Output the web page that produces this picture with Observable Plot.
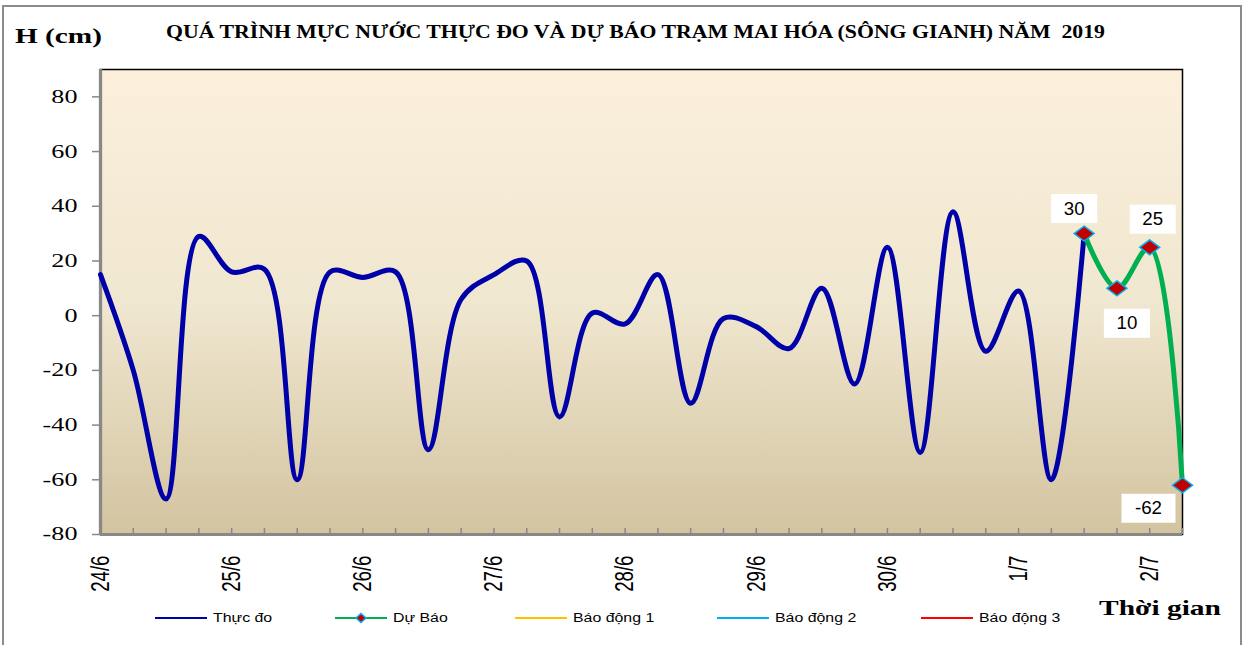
<!DOCTYPE html>
<html><head><meta charset="utf-8">
<script src="https://cdn.jsdelivr.net/npm/d3@7"></script>
<script src="https://cdn.jsdelivr.net/npm/@observablehq/plot@0.6"></script>
<style>
body{margin:0;background:#fff;}
#wrap{position:relative;width:1248px;height:645px;overflow:hidden;background:#fff;}
.stretch{position:absolute;white-space:pre;line-height:1;transform-origin:0 50%;color:#000;}
#border{position:absolute;left:2px;top:5px;width:1240px;height:660px;border:2px solid #8c8c8c;box-sizing:border-box;}
</style></head><body>
<svg width="0" height="0" style="position:absolute">
  <defs>
    <linearGradient id="bgGrad" x1="0" y1="0" x2="0" y2="1">
      <stop offset="0" stop-color="#FCF0DC"/>
      <stop offset="0.5" stop-color="#F0E7D0"/>
      <stop offset="1" stop-color="#D3C4A0"/>
    </linearGradient>
  </defs>
</svg>
<div id="wrap"><div id="border"></div></div>
<script>
// ---- data ----
const dayLabels = ["24/6","25/6","26/6","27/6","28/6","29/6","30/6","1/7","2/7"];
const yTicks = [-80,-60,-40,-20,0,20,40,60,80];
const observed = [15,-20,-67,29,16,17,-60,16,14,16,-49,6,15,20,-37,1,-3,15,-32,-1,-4,-12,10,-25,25,-50,38,-13,9,-60,30];
const forecast = [30,10,25,-62];
const forecastStart = 30;          // forecast begins at the last observed step
const stepsPerDay = 4;             // 6-hourly readings
const legendNames = ["Thực đo","Dự Báo","Báo động 1","Báo động 2","Báo động 3"];
const legendColors = ["#0000A8","#00B050","#FFC000","#00B0F0","#FF0000"];
const titleText = "QUÁ TRÌNH MỰC NƯỚC THỰC ĐO VÀ DỰ BÁO TRẠM MAI HÓA (SÔNG GIANH) NĂM  2019";
const yTitle = "H (cm)";
const xTitle = "Thời gian";

// ---- tables ----
const obsData = observed.map((v, i) => ({i, v}));
const fcData = forecast.map((v, k) => ({i: forecastStart + k, v}));
const allSteps = d3.range(forecastStart + forecast.length);
const dayTicks = dayLabels.map((d, k) => k * stepsPerDay);

const serif = '"Liberation Serif","Times New Roman",serif';
const sans = '"Liberation Sans",Arial,sans-serif';

const diamond = {draw(ctx){ ctx.moveTo(0,-7.5); ctx.lineTo(10,0); ctx.lineTo(0,7.5); ctx.lineTo(-10,0); ctx.closePath(); }};
const box = (w, h) => ({draw(ctx){ ctx.rect(-w/2, -h/2, w, h); }});

const labelStyle = [
  {dx:-10, dy:-25, w:46},
  {dx:10, dy:35, w:46},
  {dx:3, dy:-28, w:46},
  {dx:-34, dy:23, w:54}
];

const marks = [
  Plot.frame({fill: "url(#bgGrad)", stroke: "#000", strokeWidth: 1.5}),
  Plot.axisX({ticks: allSteps, tickSize: -6, tickFormat: () => "", stroke: "#888", strokeWidth: 1.5, label: null}),
  Plot.ruleY([yTicks[0]], {stroke: "#888", strokeWidth: 3}),
  Plot.ruleX([0], {stroke: "#888", strokeWidth: 3.3}),
  Plot.axisY({ticks: yTicks, tickSize: 8, tickPadding: 15, tickFormat: d => String(d), stroke: "#888", strokeWidth: 1.5, fill: "#000", fontSize: 18.7, fontFamily: serif, label: null}),
  Plot.axisX({ticks: dayTicks, tickFormat: i => dayLabels[i / stepsPerDay], tickRotate: -90, tickSize: 0, tickPadding: 21, fill: "#000", fontSize: 18.7, fontFamily: sans, label: null}),
  Plot.line(obsData, {x: "i", y: "v", stroke: "#0000A8", strokeWidth: 5, curve: "catmull-rom", strokeLinejoin: "round", strokeLinecap: "round"}),
  Plot.line(fcData, {x: "i", y: "v", stroke: "#00B050", strokeWidth: 5, curve: "catmull-rom", strokeLinejoin: "round", strokeLinecap: "round"}),
  Plot.dot(fcData, {x: "i", y: "v", symbol: diamond, fill: "#C00000", stroke: "#00B0F0", strokeWidth: 1.5, r: 7})
];
fcData.forEach((d, k) => {
  const s = labelStyle[k];
  marks.push(Plot.dot([d], {x: "i", y: "v", dx: s.dx, dy: s.dy, symbol: box(s.w, 29), fill: "#fff", stroke: "none", r: 5}));
  marks.push(Plot.text([d], {x: "i", y: "v", dx: s.dx, dy: s.dy, text: e => String(e.v), fill: "#000", fontSize: 18.7, fontFamily: sans, ariaLabel: "data label"}));
});

const chart = Plot.plot({
  width: 1248, height: 645,
  marginLeft: 100, marginRight: 66, marginTop: 69, marginBottom: 111,
  x: {type: "linear", domain: [0, allSteps.length - 1]},
  y: {domain: [-80, 90]},
  style: {background: "transparent", overflow: "visible"},
  marks
});

function stretchTexts(sel, sc) {
  chart.querySelectorAll(sel).forEach(t => {
    const tr = t.getAttribute("transform") || "";
    t.setAttribute("transform", tr + " " + sc);
  });
}
stretchTexts('g[aria-label="y-axis tick label"] text', "scale(1.4,1)");
stretchTexts('g[aria-label="x-axis tick label"] text', "scale(1,1.4)");
stretchTexts('g[aria-label="data label"] text', "scale(1.3,1)");

const wrap = document.getElementById("wrap");
chart.style.position = "absolute";
chart.style.left = "0"; chart.style.top = "0";
wrap.appendChild(chart);

function placeText(str, {left, cy, width, size, family, weight = "normal"}) {
  const s = document.createElement("span");
  s.className = "stretch";
  s.textContent = str;
  s.style.fontFamily = family; s.style.fontSize = size + "px"; s.style.fontWeight = weight;
  wrap.appendChild(s);
  const w = s.getBoundingClientRect().width;
  s.style.left = left + "px";
  s.style.top = (cy - size / 2) + "px";
  if (width) s.style.transform = `scaleX(${width / w})`;
  return s;
}
placeText(titleText, {left: 166, cy: 31.5, width: 939, size: 19, family: serif, weight: "bold"});
placeText(yTitle, {left: 15, cy: 36.5, width: 87, size: 21, family: serif, weight: "bold"});
placeText(xTitle, {left: 1099, cy: 609, width: 122, size: 21.5, family: serif, weight: "bold"});

// legend
const legendLeft = [155, 335, 515, 717, 921];
legendNames.forEach((name, k) => {
  const x0 = legendLeft[k];
  const sw = document.createElementNS("http://www.w3.org/2000/svg", "svg");
  sw.setAttribute("width", 54); sw.setAttribute("height", 12);
  sw.style.position = "absolute"; sw.style.left = x0 + "px"; sw.style.top = "612px";
  sw.innerHTML = `<line x1="0" x2="52" y1="6" y2="6" stroke="${legendColors[k]}" stroke-width="2"/>` +
    (k === 1 ? `<path d="M26,1.5L31,6L26,10.5L21,6Z" fill="#C00000" stroke="#00B0F0" stroke-width="1.5"/>` : "");
  wrap.appendChild(sw);
  const s = placeText(name, {left: x0 + 58, cy: 618, size: 12.5, family: sans});
  s.style.transform = "scaleX(1.27)";
});
</script>
</body></html>
